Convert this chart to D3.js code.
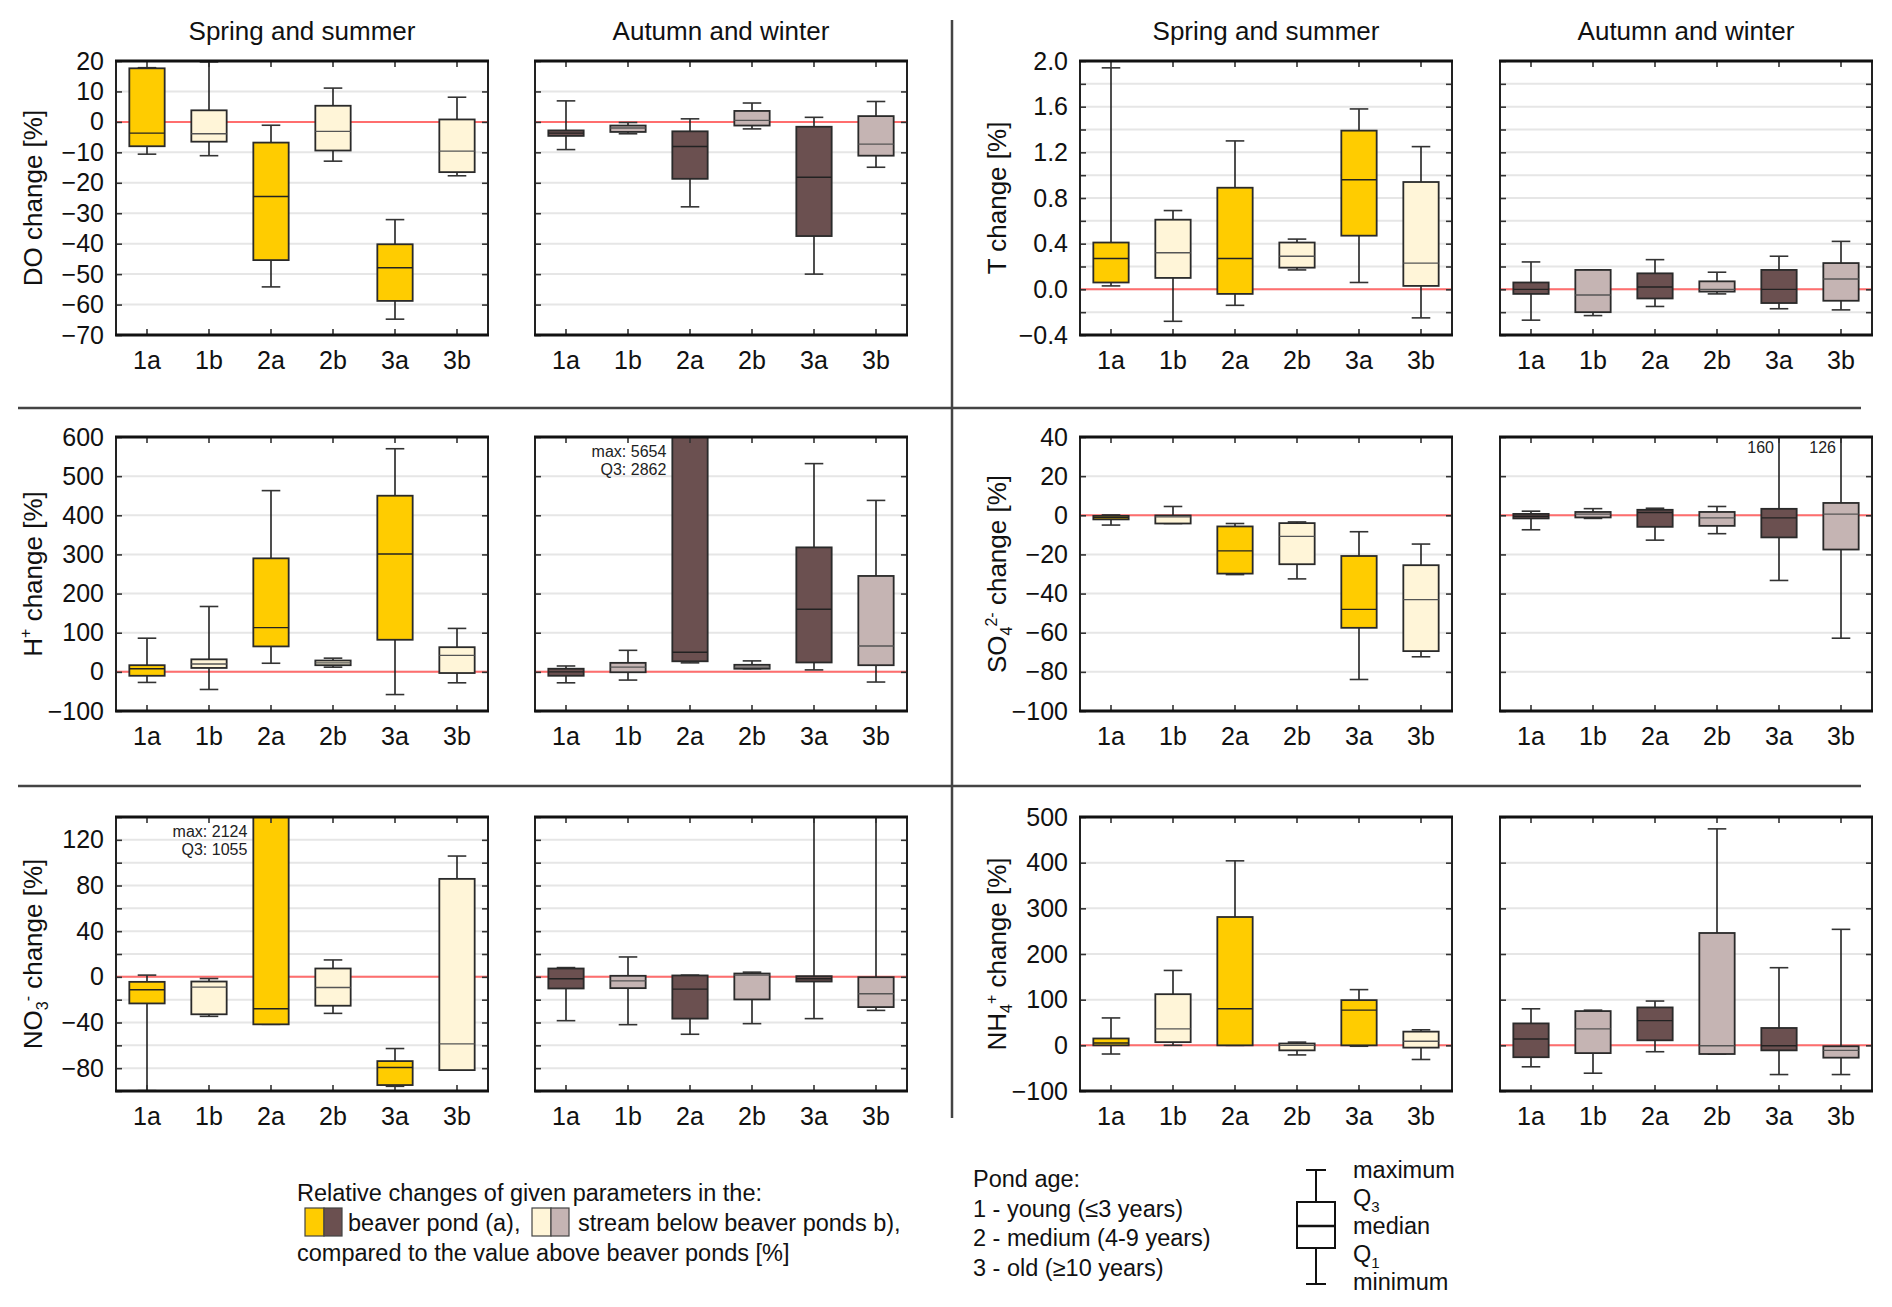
<!DOCTYPE html>
<html>
<head>
<meta charset="utf-8">
<script src="https://cdnjs.cloudflare.com/ajax/libs/d3/7.8.5/d3.min.js"></script>
<style>
  body { margin: 0; background: #fff; }
  svg { display: block; font-family: "Liberation Sans", Arial, sans-serif; }
</style>
</head>
<body>
<svg id="chart" width="1892" height="1307"></svg>
<script>
// categories (pond age 1-3, a = beaver pond, b = stream below)
var cats = ["1a", "1b", "2a", "2b", "3a", "3b"];

// every row: [minimum, Q1, median, Q3, maximum]
var doSpring = [[-10.6, -8.0, -3.7, 17.6, 17.8], [-11.1, -6.5, -3.9, 3.8, 19.7], [-54.2, -45.4, -24.5, -6.8, -1.1],
                [-12.9, -9.4, -3.1, 5.3, 11.1], [-64.8, -58.8, -47.9, -40.2, -32.1], [-17.7, -16.5, -9.6, 0.8, 8.1]];
var doAutumn = [[-9.1, -4.6, -3.7, -2.8, 6.9], [-3.9, -3.3, -2.0, -1.2, -0.2], [-27.9, -18.7, -8.1, -3.1, 1.0],
                [-2.3, -1.2, 0.5, 3.6, 6.2], [-50.0, -37.5, -18.2, -1.6, 1.5], [-14.9, -11.1, -7.3, 1.9, 6.7]];

var tSpring = [[0.03, 0.06, 0.27, 0.41, 1.94], [-0.28, 0.10, 0.32, 0.61, 0.69], [-0.14, -0.04, 0.27, 0.89, 1.30],
               [0.17, 0.19, 0.29, 0.41, 0.44], [0.06, 0.47, 0.96, 1.39, 1.58], [-0.25, 0.03, 0.23, 0.94, 1.25]];
var tAutumn = [[-0.27, -0.04, 0.0, 0.06, 0.24], [-0.23, -0.20, -0.05, 0.17, 0.17], [-0.15, -0.08, 0.02, 0.14, 0.26],
               [-0.04, -0.02, 0.0, 0.07, 0.15], [-0.17, -0.12, 0.0, 0.17, 0.29], [-0.18, -0.10, 0.09, 0.23, 0.42]];

var hSpring = [[-27, -10, 8, 17, 86], [-45, 10, 20, 32, 167], [22, 65, 113, 290, 463],
               [12, 17, 23, 29, 35], [-58, 82, 301, 450, 570], [-28, -3, 42, 63, 111]];
var hAutumn = [[-28, -10, 0, 8, 15], [-21, -1, 12, 23, 55], [23, 27, 50, 2862, 5654],
               [8, 8, 12, 18, 28], [5, 24, 160, 318, 532], [-26, 17, 66, 245, 438]];

var so4Spring = [[-5.0, -2.1, -1.1, -0.3, 0.2], [-4.2, -4.2, -0.8, -0.1, 4.5], [-30.3, -29.8, -18.2, -5.7, -4.2],
                 [-32.5, -25.0, -10.8, -4.0, -3.4], [-83.9, -57.5, -48.1, -20.8, -8.4], [-72.3, -69.4, -43.1, -25.5, -14.7]];
var so4Autumn = [[-7.4, -1.6, -0.5, 0.7, 2.1], [-1.6, -1.1, 0.6, 1.7, 3.4], [-12.7, -5.9, 1.4, 2.8, 3.6],
                 [-9.4, -5.4, -1.3, 1.7, 4.5], [-33.3, -11.3, -1.3, 3.3, 160], [-62.8, -17.5, 0.6, 6.3, 126]];

var no3Spring = [[-99.7, -23.3, -11.3, -4.4, 1.5], [-34.6, -32.8, -9.0, -4.1, -1.5], [-41.6, -41.6, -27.9, 1055, 2124],
                 [-32.0, -25.3, -9.3, 7.3, 14.8], [-95.9, -94.8, -79.4, -73.8, -62.8], [-81.7, -81.7, -58.7, 85.8, 105.8]];
var no3Autumn = [[-38.4, -10.2, -1.7, 7.3, 8.1], [-41.9, -9.9, -3.5, 0.9, 17.4], [-50.3, -36.6, -10.8, 1.2, 1.5],
                 [-41.0, -19.8, 1.5, 2.9, 4.1], [-36.6, -4.1, -1.7, 0.6, 150], [-29.4, -26.5, -14.8, -0.3, 150]];

var nh4Spring = [[-19, 0, 5, 15, 60], [0, 7, 36, 112, 164], [0, 0, 80, 281, 404],
                 [-21, -11, 0, 4, 7], [-2, 0, 77, 99, 122], [-31, -5, 9, 30, 34]];
var nh4Autumn = [[-47, -26, 14, 48, 80], [-61, -17, 36, 75, 77], [-14, 11, 54, 83, 97],
                 [-19, -19, -1, 246, 474], [-64, -11, -1, 38, 170], [-64, -27, -11, -2, 254]];

var seasonTitles = ["Spring and summer", "Autumn and winter"];
var pondAge = ["Pond age:", "1 - young (\u22643 years)", "2 - medium (4-9 years)", "3 - old (\u226510 years)"];
var boxKey = [["maximum"], ["Q", "3"], ["median"], ["Q", "1"], ["minimum"]];

// colours: [season][a/b]
var fills = [["#ffcc00", "#fff5d8"], ["#6b5050", "#c5b4b3"]];

var W = 372, H = 274;
var colLeft = [116, 535, 1080, 1500];
var rowTop = [61, 437, 817];

var svg = d3.select("#chart");

var params = [
  {row: 0, side: 0, spring: doSpring, autumn: doAutumn, dom: [-70, 20], step: 10, lab: 10, fmt: d3.format("d"),
   label: [{t: "DO change [%]"}]},
  {row: 0, side: 1, spring: tSpring, autumn: tAutumn, dom: [-0.4, 2.0], step: 0.2, lab: 0.4, fmt: d3.format(".1f"),
   label: [{t: "T change [%]"}]},
  {row: 1, side: 0, spring: hSpring, autumn: hAutumn, dom: [-100, 600], step: 100, lab: 100, fmt: d3.format("d"),
   label: [{t: "H"}, {t: "+", sup: 1}, {t: " change [%]", back: 1}],
   notes: [{season: 1, cat: "2a", lines: ["max: 5654", "Q3: 2862"]}]},
  {row: 1, side: 1, spring: so4Spring, autumn: so4Autumn, dom: [-100, 40], step: 20, lab: 20, fmt: d3.format("d"),
   label: [{t: "SO"}, {t: "4", sub: 1}, {t: "2-", supAfterSub: 1}, {t: " change [%]", back: 1}],
   marks: [{season: 1, cat: "3a", t: "160"}, {season: 1, cat: "3b", t: "126"}]},
  {row: 2, side: 0, spring: no3Spring, autumn: no3Autumn, dom: [-100, 140], step: 20, lab: 40, fmt: d3.format("d"),
   label: [{t: "NO"}, {t: "3", sub: 1}, {t: "-", supAfterSub: 1}, {t: " change [%]", back: 1}],
   notes: [{season: 0, cat: "2a", lines: ["max: 2124", "Q3: 1055"]}]},
  {row: 2, side: 1, spring: nh4Spring, autumn: nh4Autumn, dom: [-100, 500], step: 100, lab: 100, fmt: d3.format("d"),
   label: [{t: "NH"}, {t: "4", sub: 1}, {t: "+", supAfterSub: 1}, {t: " change [%]", back: 1}]}
];

var clipId = 0;

function drawPanel(p, season) {
  var col = p.side * 2 + season;
  var data = season === 0 ? p.spring : p.autumn;
  var g = svg.append("g").attr("transform", "translate(" + colLeft[col] + "," + rowTop[p.row] + ")");

  var x = d3.scaleBand().domain(cats).range([0, W]);
  var y = d3.scaleLinear().domain(p.dom).range([H, 0]);
  var n = Math.round((p.dom[1] - p.dom[0]) / p.step);
  var vals = d3.range(0, n + 1).map(function (i) { return +(p.dom[0] + i * p.step).toFixed(6); });
  var labVals = vals.filter(function (v) { return Math.abs(Math.round(v / p.lab) * p.lab - v) < 1e-6; });

  // grid
  g.append("g").selectAll("line").data(vals.slice(1, -1)).join("line")
    .attr("x1", 0).attr("x2", W)
    .attr("y1", function (d) { return y(d); }).attr("y2", function (d) { return y(d); })
    .attr("stroke", "#e6e6e6").attr("stroke-width", 2);

  // reference line at zero
  g.append("line").attr("x1", 0).attr("x2", W).attr("y1", y(0)).attr("y2", y(0))
    .attr("stroke", "#ff6e6e").attr("stroke-width", 2);

  clipId++;
  g.append("clipPath").attr("id", "clip" + clipId)
    .append("rect").attr("x", 0).attr("y", -1).attr("width", W).attr("height", H + 2);
  var plot = g.append("g").attr("clip-path", "url(#clip" + clipId + ")");

  var bw = x.bandwidth() * 0.57, cw = x.bandwidth() * 0.3;
  var boxes = plot.selectAll("g.box").data(data).join("g").attr("class", "box")
    .attr("transform", function (d, i) { return "translate(" + (x(cats[i]) + x.bandwidth() / 2) + ",0)"; });

  boxes.append("line").attr("x1", 0).attr("x2", 0)
    .attr("y1", function (d) { return y(d[0]); }).attr("y2", function (d) { return y(d[4]); })
    .attr("stroke", "#222").attr("stroke-width", 1.6);
  boxes.append("line").attr("x1", -cw / 2).attr("x2", cw / 2)
    .attr("y1", function (d) { return y(d[0]); }).attr("y2", function (d) { return y(d[0]); })
    .attr("stroke", "#333").attr("stroke-width", 1.6);
  boxes.append("line").attr("x1", -cw / 2).attr("x2", cw / 2)
    .attr("y1", function (d) { return y(d[4]); }).attr("y2", function (d) { return y(d[4]); })
    .attr("stroke", "#333").attr("stroke-width", 1.6);
  boxes.append("rect")
    .attr("x", -bw / 2).attr("width", bw)
    .attr("y", function (d) { return y(d[3]); })
    .attr("height", function (d) { return Math.max(1, y(d[1]) - y(d[3])); })
    .attr("fill", function (d, i) { return fills[season][i % 2]; })
    .attr("stroke", "#2a2a2a").attr("stroke-width", 1.8);
  boxes.append("line").attr("x1", -bw / 2).attr("x2", bw / 2)
    .attr("y1", function (d) { return y(d[2]); }).attr("y2", function (d) { return y(d[2]); })
    .attr("stroke", function (d, i) { return i % 2 ? "#555" : "#222"; }).attr("stroke-width", 1.4);

  // axes with inward ticks
  var yl = d3.axisLeft(y).tickValues(vals).tickSize(-6).tickPadding(12)
    .tickFormat(function (d) { return labVals.indexOf(d) >= 0 && season === 0 ? p.fmt(d) : ""; });
  var yr = d3.axisRight(y).tickValues(vals.slice(1, -1)).tickSize(-6).tickFormat("");
  var xb = d3.axisBottom(x).tickSize(-6).tickPadding(16);
  var xt = d3.axisTop(x).tickSize(-6).tickFormat("");

  [g.append("g").call(yl),
   g.append("g").attr("transform", "translate(" + W + ",0)").call(yr),
   g.append("g").attr("transform", "translate(0," + H + ")").call(xb),
   g.append("g").call(xt)].forEach(function (a) {
    a.select(".domain").remove();
    a.selectAll(".tick line").attr("stroke", "#333").attr("stroke-width", 1.6);
    a.selectAll(".tick text").attr("font-size", 25).attr("fill", "#111")
      .attr("font-family", "'Liberation Sans', Arial, sans-serif");
  });

  // frame
  g.append("line").attr("x1", 0).attr("x2", 0).attr("y1", 0).attr("y2", H).attr("stroke", "#222").attr("stroke-width", 2);
  g.append("line").attr("x1", W).attr("x2", W).attr("y1", 0).attr("y2", H).attr("stroke", "#222").attr("stroke-width", 2);
  g.append("line").attr("x1", -1).attr("x2", W + 1).attr("y1", 0).attr("y2", 0).attr("stroke", "#111").attr("stroke-width", 3);
  g.append("line").attr("x1", -1).attr("x2", W + 1).attr("y1", H).attr("y2", H).attr("stroke", "#111").attr("stroke-width", 3);

  // values that run off the chart
  (p.notes || []).filter(function (nt) { return nt.season === season; }).forEach(function (nt) {
    var xl = x(nt.cat) + (x.bandwidth() - bw) / 2 - 6;
    nt.lines.forEach(function (s, k) {
      g.append("text").attr("x", xl).attr("y", 20 + k * 18).attr("text-anchor", "end")
        .attr("font-size", 16).attr("fill", "#222").text(s);
    });
  });
  (p.marks || []).filter(function (m) { return m.season === season; }).forEach(function (m) {
    g.append("text").attr("x", x(m.cat) + x.bandwidth() / 2 - 5).attr("y", 16).attr("text-anchor", "end")
      .attr("font-size", 16).attr("fill", "#222").text(m.t);
  });

  // y label
  if (season === 0) {
    var lx = p.side === 0 ? 33 : 997;
    var txt = svg.append("text")
      .attr("transform", "translate(" + lx + "," + (rowTop[p.row] + H / 2) + ") rotate(-90)")
      .attr("y", 9).attr("text-anchor", "middle").attr("font-size", 26).attr("fill", "#111");
    p.label.forEach(function (s) {
      var ts = txt.append("tspan").text(s.t);
      if (s.sup) ts.attr("dy", -11).attr("font-size", 16);
      if (s.sub) ts.attr("dy", 6).attr("font-size", 16);
      if (s.supAfterSub) ts.attr("dy", -15).attr("font-size", 16);
      if (s.back) ts.attr("dy", s.t && p.label.some(function (q) { return q.sub; }) ? 9 : 11);
    });
  }
}

params.forEach(function (p) {
  drawPanel(p, 0);
  drawPanel(p, 1);
});

// season titles
[0, 1, 2, 3].forEach(function (c) {
  svg.append("text").attr("x", colLeft[c] + W / 2).attr("y", 40)
    .attr("text-anchor", "middle").attr("font-size", 26).attr("fill", "#111")
    .text(seasonTitles[c % 2]);
});

// section dividers
svg.append("line").attr("x1", 18).attr("x2", 1861).attr("y1", 408).attr("y2", 408).attr("stroke", "#444").attr("stroke-width", 2.5);
svg.append("line").attr("x1", 18).attr("x2", 1861).attr("y1", 786).attr("y2", 786).attr("stroke", "#444").attr("stroke-width", 2.5);
svg.append("line").attr("x1", 952).attr("x2", 952).attr("y1", 20).attr("y2", 1118).attr("stroke", "#444").attr("stroke-width", 2.5);

// legend: colours
var lg = svg.append("g").attr("font-size", 23.5).attr("fill", "#111");
lg.append("text").attr("x", 297).attr("y", 1201).text("Relative changes of given parameters in the:");
lg.append("text").attr("x", 348).attr("y", 1231).text("beaver pond (a),");
lg.append("text").attr("x", 578).attr("y", 1231).text("stream below beaver ponds b),");
lg.append("text").attr("x", 297).attr("y", 1261).text("compared to the value above beaver ponds [%]");
[[305, 0], [532, 1]].forEach(function (s) {
  lg.append("rect").attr("x", s[0]).attr("y", 1208).attr("width", 19).attr("height", 28)
    .attr("fill", fills[0][s[1]]).attr("stroke", "#444").attr("stroke-width", 1.2);
  lg.append("rect").attr("x", s[0] + 19).attr("y", 1208).attr("width", 18).attr("height", 28)
    .attr("fill", fills[1][s[1]]).attr("stroke", "#444").attr("stroke-width", 1.2);
});

// legend: pond age
pondAge.forEach(function (s, i) {
  lg.append("text").attr("x", 973).attr("y", 1187 + i * 29.5).text(s);
});

// legend: box key
var kx = 1316;
lg.append("line").attr("x1", kx).attr("x2", kx).attr("y1", 1170).attr("y2", 1284).attr("stroke", "#111").attr("stroke-width", 2);
lg.append("line").attr("x1", kx - 10).attr("x2", kx + 10).attr("y1", 1170).attr("y2", 1170).attr("stroke", "#111").attr("stroke-width", 2);
lg.append("line").attr("x1", kx - 10).attr("x2", kx + 10).attr("y1", 1284).attr("y2", 1284).attr("stroke", "#111").attr("stroke-width", 2);
lg.append("rect").attr("x", 1297).attr("y", 1202).attr("width", 38).attr("height", 46)
  .attr("fill", "#fff").attr("stroke", "#111").attr("stroke-width", 2);
lg.append("line").attr("x1", 1297).attr("x2", 1335).attr("y1", 1226).attr("y2", 1226).attr("stroke", "#111").attr("stroke-width", 2.5);
boxKey.forEach(function (k, i) {
  var t = lg.append("text").attr("x", 1353).attr("y", 1178 + i * 28);
  t.append("tspan").text(k[0]);
  if (k[1]) t.append("tspan").attr("dy", 6).attr("font-size", 15).text(k[1]);
});
</script>
</body>
</html>
